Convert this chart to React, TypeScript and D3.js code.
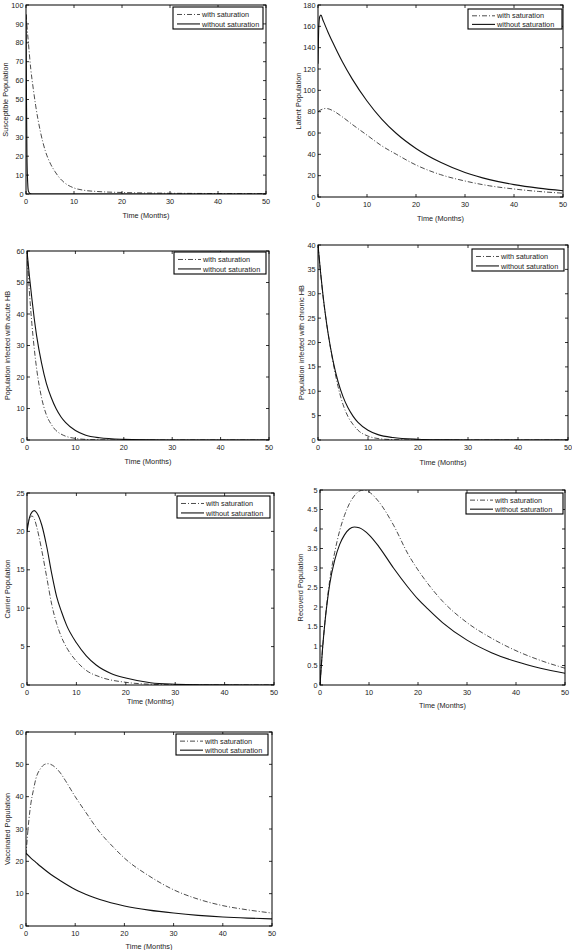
import React from "react";
import * as d3 from "d3";

type Pt = [number, number];

const timeTicks = [0, 10, 20, 30, 40, 50];
const legendLabels = ["with saturation", "without saturation"];
const xAxisLabel = "Time (Months)";

const susceptibleTicks = [0, 10, 20, 30, 40, 50, 60, 70, 80, 90, 100];
const latentTicks = [0, 20, 40, 60, 80, 100, 120, 140, 160, 180];
const acuteTicks = [0, 10, 20, 30, 40, 50, 60];
const chronicTicks = [0, 5, 10, 15, 20, 25, 30, 35, 40];
const carrierTicks = [0, 5, 10, 15, 20, 25];
const recoveredTicks = [0, 0.5, 1, 1.5, 2, 2.5, 3, 3.5, 4, 4.5, 5];
const vaccinatedTicks = [0, 10, 20, 30, 40, 50, 60];

const susceptibleWith: Pt[] = [[0,95],[0.5,80],[1,66],[1.5,56],[2,47],[3,33],[4,23],[5,16.5],[6,12],[7,8.5],[8,6],[10,3.2],[12,2],[15,1.3],[20,0.8],[30,0.4],[40,0.25],[50,0.2]];
const susceptibleWithout: Pt[] = [[0,95],[0.1,50],[0.2,20],[0.35,6],[0.5,1.5],[0.8,0.3],[1.2,0],[50,0]];

const latentWith: Pt[] = [[0,80],[0.5,81.5],[1,82.5],[1.5,83],[2,82.8],[3,81],[5,75],[7,68],[10,58],[13,48],[16,40],[20,30],[25,21],[30,15],[35,10.5],[40,7.5],[45,5.2],[50,3.6]];
const latentWithout: Pt[] = [[0,125],[0.15,158],[0.35,169],[0.6,170.5],[1,166],[2,155],[3,145],[5,126.5],[7,110.5],[10,90],[13,73],[16,59.5],[20,45.5],[25,32.5],[30,23],[35,16.3],[40,11.6],[45,8.3],[50,5.9]];

const acuteWith: Pt[] = [[0,60],[0.5,47],[1,37],[1.5,29],[2,22.5],[3,13.5],[4,8],[5,5],[6,3],[7,1.9],[8,1.2],[10,0.5],[12,0.2],[15,0.05],[20,0],[50,0]];
const acuteWithout: Pt[] = [[0,60],[0.5,52],[1,45],[1.5,38.5],[2,33],[3,24.5],[4,18],[5,13.5],[6,10],[7,7.4],[8,5.5],[10,3],[12,1.6],[15,0.7],[20,0.2],[25,0.05],[30,0],[50,0]];

const chronicWith: Pt[] = [[0,40],[0.5,34.5],[1,29.5],[1.5,25.5],[2,22],[3,16],[4,11],[5,7.3],[6,4.8],[7,3.2],[8,2],[10,0.8],[12,0.3],[15,0.08],[20,0],[50,0]];
const chronicWithout: Pt[] = [[0,40],[0.5,34.5],[1,29.7],[1.5,25.6],[2,22],[3,16.3],[4,12],[5,8.9],[6,6.6],[7,4.9],[8,3.6],[10,2],[12,1.1],[15,0.5],[20,0.15],[25,0.04],[30,0],[50,0]];

const carrierWith: Pt[] = [[0,20.5],[0.5,21.7],[1,22],[1.5,21.6],[2,20.5],[3,17.5],[4,14],[5,10.5],[6,8],[7,6.2],[8,4.9],[10,3.1],[12,1.9],[15,1],[20,0.35],[25,0.1],[30,0.03],[50,0]];
const carrierWithout: Pt[] = [[0,20],[0.5,21.8],[1,22.5],[1.5,22.7],[2,22.4],[3,20.8],[4,18],[5,14.5],[6,11.5],[7,9.5],[8,7.8],[10,5.5],[12,3.8],[14,2.6],[17,1.5],[20,0.9],[25,0.3],[30,0.1],[35,0.03],[50,0]];

const recoveredWith: Pt[] = [[0,0],[0.5,0.9],[1,1.6],[1.5,2.2],[2,2.7],[3,3.4],[4,3.95],[5,4.35],[6,4.65],[7,4.85],[8,4.97],[9,5.0],[10,4.95],[12,4.7],[15,4.1],[18,3.35],[20,2.95],[22,2.6],[25,2.15],[30,1.6],[35,1.2],[40,0.88],[45,0.63],[50,0.43]];
const recoveredWithout: Pt[] = [[0,0],[0.5,0.9],[1,1.6],[1.5,2.15],[2,2.6],[3,3.2],[4,3.6],[5,3.85],[6,4.0],[7,4.05],[8,4.03],[10,3.85],[12,3.55],[15,3.0],[18,2.5],[20,2.2],[22,1.95],[25,1.6],[30,1.15],[35,0.83],[40,0.6],[45,0.43],[50,0.3]];

const vaccinatedWith: Pt[] = [[0,22],[0.3,28],[0.6,33],[1,38],[1.5,42],[2,45.5],[3,48.8],[4,50.1],[4.5,50.2],[5,50],[6,49],[7,47.3],[8,45],[10,40],[12,35.5],[15,29],[18,24],[20,21],[25,15.5],[30,11.2],[35,8.3],[40,6.3],[45,5],[50,4]];
const vaccinatedWithout: Pt[] = [[0,22.5],[1,21],[2,19.7],[3,18.4],[5,16],[7,14],[10,11.3],[13,9.3],[15,8.2],[20,6.2],[25,4.9],[30,4],[35,3.3],[40,2.8],[45,2.45],[50,2.2]];

type Panel = {
  ylabel: string;
  yTicks: number[];
  withS: Pt[];
  withoutS: Pt[];
  box: [number, number, number, number]; // l,t,r,b
  legend: [number, number, number, number];
  ylabelX: number;
  xlabelY: number;
};

const panels: Panel[] = [
  { ylabel: "Susceptible Population", yTicks: susceptibleTicks, withS: susceptibleWith, withoutS: susceptibleWithout, box: [26, 5, 266, 194], legend: [173, 7, 263, 29], ylabelX: 5, xlabelY: 215 },
  { ylabel: "Latent Population", yTicks: latentTicks, withS: latentWith, withoutS: latentWithout, box: [318, 5, 563, 197], legend: [468, 9, 562, 29], ylabelX: 298, xlabelY: 218 },
  { ylabel: "Population infected with acute HB", yTicks: acuteTicks, withS: acuteWith, withoutS: acuteWithout, box: [27, 251, 269, 440], legend: [174, 252, 266, 274], ylabelX: 7, xlabelY: 461 },
  { ylabel: "Population infected with chronic HB", yTicks: chronicTicks, withS: chronicWith, withoutS: chronicWithout, box: [318, 245, 568, 440], legend: [472, 249, 564, 271], ylabelX: 301, xlabelY: 462 },
  { ylabel: "Carrier Population", yTicks: carrierTicks, withS: carrierWith, withoutS: carrierWithout, box: [27, 493, 274, 685], legend: [177, 496, 270, 518], ylabelX: 7, xlabelY: 701 },
  { ylabel: "Recoverd Population", yTicks: recoveredTicks, withS: recoveredWith, withoutS: recoveredWithout, box: [320, 490, 565, 685], legend: [466, 493, 563, 514], ylabelX: 300, xlabelY: 705 },
  { ylabel: "Vaccinated Population", yTicks: vaccinatedTicks, withS: vaccinatedWith, withoutS: vaccinatedWithout, box: [26, 732, 272, 926], legend: [176, 734, 268, 755], ylabelX: 7, xlabelY: 946 },
];

const FONT = "'Liberation Sans', Arial, Helvetica, sans-serif";
const FS = 7.3;
const DASHDOT = "5,2,1,2";

function PanelView({ p, idx }: { p: Panel; idx: number }) {
  const [l, t, r, b] = p.box;
  const x = d3.scaleLinear().domain([0, 50]).range([l, r]);
  const yMax = p.yTicks[p.yTicks.length - 1];
  const y = d3.scaleLinear().domain([0, yMax]).range([b, t]);
  const line = d3
    .line<Pt>()
    .x((d) => x(d[0]))
    .y((d) => y(d[1]))
    .curve(d3.curveMonotoneX);
  const clipId = `clip${idx}`;
  const [ll, lt, lr, lb] = p.legend;
  const row1 = lt + (lb - lt) * 0.34;
  const row2 = lt + (lb - lt) * 0.77;
  const tl = 3;
  return (
    <g>
      <defs>
        <clipPath id={clipId}>
          <rect x={l} y={t} width={r - l} height={b - t} />
        </clipPath>
      </defs>
      <g clipPath={`url(#${clipId})`}>
        <path d={line(p.withS) || ""} fill="none" stroke="#2a2a2a" strokeWidth={0.85} strokeDasharray={DASHDOT} />
        <path d={line(p.withoutS) || ""} fill="none" stroke="#111" strokeWidth={1.1} />
      </g>
      {timeTicks.map((v) => (
        <g key={"x" + v}>
          <line x1={x(v)} x2={x(v)} y1={b} y2={b - tl} stroke="#000" strokeWidth={0.8} />
          <line x1={x(v)} x2={x(v)} y1={t} y2={t + tl} stroke="#000" strokeWidth={0.8} />
          <text x={x(v)} y={b + 9.5} fontSize={FS} fontFamily={FONT} textAnchor="middle" fill="#222">
            {v}
          </text>
        </g>
      ))}
      {p.yTicks.map((v) => (
        <g key={"y" + v}>
          <line x1={l} x2={l + tl} y1={y(v)} y2={y(v)} stroke="#000" strokeWidth={0.8} />
          <line x1={r} x2={r - tl} y1={y(v)} y2={y(v)} stroke="#000" strokeWidth={0.8} />
          <text x={l - 2.5} y={y(v) + 2.6} fontSize={FS} fontFamily={FONT} textAnchor="end" fill="#222">
            {String(v)}
          </text>
        </g>
      ))}
      <rect x={l} y={t} width={r - l} height={b - t} fill="none" stroke="#000" strokeWidth={1} />
      <text x={(l + r) / 2} y={p.xlabelY + 2.6} fontSize={FS} fontFamily={FONT} textAnchor="middle" fill="#222">
        {xAxisLabel}
      </text>
      <text
        transform={`translate(${p.ylabelX + 2.6},${(t + b) / 2}) rotate(-90)`}
        fontSize={FS}
        fontFamily={FONT}
        textAnchor="middle"
        fill="#222"
      >
        {p.ylabel}
      </text>
      <rect x={ll} y={lt} width={lr - ll} height={lb - lt} fill="#fff" stroke="#000" strokeWidth={1.1} />
      <line x1={ll + 4} x2={ll + 27} y1={row1} y2={row1} stroke="#2a2a2a" strokeWidth={0.85} strokeDasharray={DASHDOT} />
      <line x1={ll + 4} x2={ll + 27} y1={row2} y2={row2} stroke="#111" strokeWidth={1.1} />
      <text x={ll + 29} y={row1 + 2.6} fontSize={FS} fontFamily={FONT} fill="#222">
        {legendLabels[0]}
      </text>
      <text x={ll + 29} y={row2 + 2.6} fontSize={FS} fontFamily={FONT} fill="#222">
        {legendLabels[1]}
      </text>
    </g>
  );
}

export default function App() {
  return (
    <svg
      width={572}
      height={950}
      style={{ position: "absolute", left: 0, top: 0, background: "#fff" }}
    >
      <rect x={0} y={0} width={572} height={950} fill="#fff" />
      {panels.map((p, i) => (
        <PanelView key={i} p={p} idx={i} />
      ))}
    </svg>
  );
}
